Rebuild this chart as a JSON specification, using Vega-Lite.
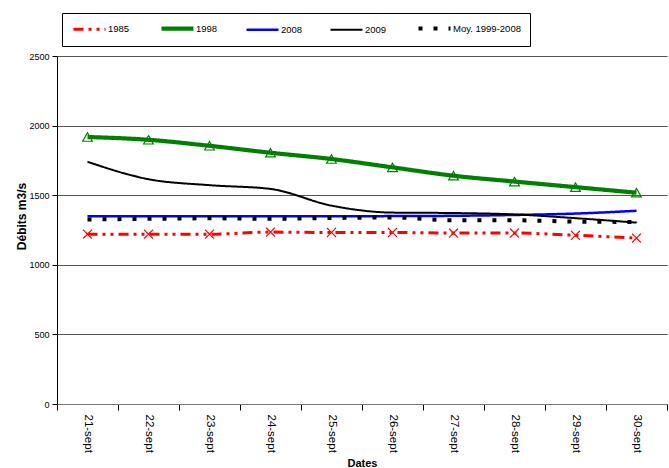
{
  "$schema": "https://vega.github.io/schema/vega-lite/v6.json",
  "width": 610,
  "height": 348,
  "autosize": {"type": "none"},
  "padding": {"left": 57, "top": 56, "right": 2, "bottom": 64},
  "background": "white",
  "config": {
    "font": "Liberation Sans",
    "view": {"stroke": null}
  },
  "data": {
    "values": [
      {"date": "21-sept", "serie": "1985", "v": 1220},
      {"date": "22-sept", "serie": "1985", "v": 1220},
      {"date": "23-sept", "serie": "1985", "v": 1220},
      {"date": "24-sept", "serie": "1985", "v": 1235},
      {"date": "25-sept", "serie": "1985", "v": 1232},
      {"date": "26-sept", "serie": "1985", "v": 1232},
      {"date": "27-sept", "serie": "1985", "v": 1228},
      {"date": "28-sept", "serie": "1985", "v": 1228},
      {"date": "29-sept", "serie": "1985", "v": 1212},
      {"date": "30-sept", "serie": "1985", "v": 1192},
      {"date": "21-sept", "serie": "1998", "v": 1918},
      {"date": "22-sept", "serie": "1998", "v": 1898},
      {"date": "23-sept", "serie": "1998", "v": 1855},
      {"date": "24-sept", "serie": "1998", "v": 1805},
      {"date": "25-sept", "serie": "1998", "v": 1760},
      {"date": "26-sept", "serie": "1998", "v": 1700},
      {"date": "27-sept", "serie": "1998", "v": 1640},
      {"date": "28-sept", "serie": "1998", "v": 1598},
      {"date": "29-sept", "serie": "1998", "v": 1558},
      {"date": "30-sept", "serie": "1998", "v": 1518},
      {"date": "21-sept", "serie": "2008", "v": 1348},
      {"date": "22-sept", "serie": "2008", "v": 1348},
      {"date": "23-sept", "serie": "2008", "v": 1348},
      {"date": "24-sept", "serie": "2008", "v": 1348},
      {"date": "25-sept", "serie": "2008", "v": 1348},
      {"date": "26-sept", "serie": "2008", "v": 1350},
      {"date": "27-sept", "serie": "2008", "v": 1352},
      {"date": "28-sept", "serie": "2008", "v": 1358},
      {"date": "29-sept", "serie": "2008", "v": 1368},
      {"date": "30-sept", "serie": "2008", "v": 1388},
      {"date": "21-sept", "serie": "2009", "v": 1740},
      {"date": "22-sept", "serie": "2009", "v": 1615},
      {"date": "23-sept", "serie": "2009", "v": 1572},
      {"date": "24-sept", "serie": "2009", "v": 1545},
      {"date": "25-sept", "serie": "2009", "v": 1425},
      {"date": "26-sept", "serie": "2009", "v": 1375},
      {"date": "27-sept", "serie": "2009", "v": 1372},
      {"date": "28-sept", "serie": "2009", "v": 1362},
      {"date": "29-sept", "serie": "2009", "v": 1335},
      {"date": "30-sept", "serie": "2009", "v": 1303},
      {"date": "21-sept", "serie": "Moy. 1999-2008", "v": 1326},
      {"date": "22-sept", "serie": "Moy. 1999-2008", "v": 1330},
      {"date": "23-sept", "serie": "Moy. 1999-2008", "v": 1334},
      {"date": "24-sept", "serie": "Moy. 1999-2008", "v": 1330},
      {"date": "25-sept", "serie": "Moy. 1999-2008", "v": 1336},
      {"date": "26-sept", "serie": "Moy. 1999-2008", "v": 1340},
      {"date": "27-sept", "serie": "Moy. 1999-2008", "v": 1320},
      {"date": "28-sept", "serie": "Moy. 1999-2008", "v": 1320},
      {"date": "29-sept", "serie": "Moy. 1999-2008", "v": 1310},
      {"date": "30-sept", "serie": "Moy. 1999-2008", "v": 1308}
    ]
  },
  "encoding": {
    "x": {
      "field": "date",
      "type": "nominal",
      "sort": null,
      "scale": {"paddingInner": 0, "paddingOuter": 0},
      "axis": {
        "title": "Dates",
        "titleFont": "Liberation Sans",
        "titleFontSize": 11,
        "titleFontWeight": "bold",
        "titleColor": "#000",
        "titleY": 62,
        "titleBaseline": "alphabetic",
        "labelAngle": 90,
        "labelAlign": "left",
        "labelBaseline": "middle",
        "labelFontSize": 11.5,
        "labelColor": "#000",
        "labelPadding": 4,
        "tickBand": "extent",
        "tickSize": 6,
        "tickColor": "#000",
        "domainColor": "#777",
        "labelOverlap": false,
        "grid": false
      }
    },
    "y": {
      "field": "v",
      "type": "quantitative",
      "scale": {"domain": [0, 2500], "nice": false},
      "axis": {
        "title": "Débits m3/s",
        "titleFontSize": 12,
        "titleFontWeight": "bold",
        "titleColor": "#000",
        "titleX": -36,
        "titleY": 160,
        "titleAlign": "center",
        "titleBaseline": "middle",
        "values": [0, 500, 1000, 1500, 2000, 2500],
        "format": "d",
        "labelFontSize": 9,
        "labelColor": "#000",
        "labelPadding": 3,
        "tickSize": 5,
        "tickColor": "#000",
        "domainColor": "#000",
        "grid": true,
        "gridColor": "#555",
        "gridOpacity": 1
      }
    },
    "color": {
      "field": "serie",
      "type": "nominal",
      "scale": {
        "domain": ["1985", "1998", "2008", "2009", "Moy. 1999-2008"],
        "range": ["#ff0000", "#008000", "#0000ff", "#000000", "#000000"]
      },
      "legend": {
        "title": null,
        "orient": "none",
        "legendX": 5,
        "legendY": -43,
        "direction": "horizontal",
        "columns": 5,
        "symbolType": "M-1,0L7,0",
        "symbolSize": 64,
        "labelFontSize": 9.5,
        "labelColor": "#000",
        "labelOffset": 24,
        "columnPadding": 23,
        "padding": 9,
        "strokeColor": "#000",
        "fillColor": "white"
      }
    },
    "strokeDash": {
      "field": "serie",
      "type": "nominal",
      "scale": {
        "domain": ["1985", "1998", "2008", "2009", "Moy. 1999-2008"],
        "range": [[10, 5, 3, 5, 3, 5], [1, 0], [1, 0], [1, 0], [4, 11]]
      },
      "legend": null
    },
    "strokeWidth": {
      "field": "serie",
      "type": "nominal",
      "scale": {
        "type": "ordinal",
        "domain": ["1985", "1998", "2008", "2009", "Moy. 1999-2008"],
        "range": [3, 4.2, 2.5, 2, 4]
      },
      "legend": null
    }
  },
  "layer": [
    {
      "mark": {"type": "line", "interpolate": "monotone"}
    },
    {
      "transform": [{"filter": "datum.serie === '1985'"}],
      "mark": {
        "type": "point",
        "shape": "M-1,-1L1,1M-1,1L1,-1",
        "filled": false,
        "size": 80,
        "opacity": 1
      },
      "encoding": {"strokeDash": {"value": [1, 0]}, "strokeWidth": {"value": 1.2}}
    },
    {
      "transform": [{"filter": "datum.serie === '1998'"}],
      "mark": {
        "type": "point",
        "shape": "triangle-up",
        "filled": false,
        "size": 95,
        "opacity": 1
      },
      "encoding": {"strokeDash": {"value": [1, 0]}, "strokeWidth": {"value": 1.2}}
    }
  ]
}
